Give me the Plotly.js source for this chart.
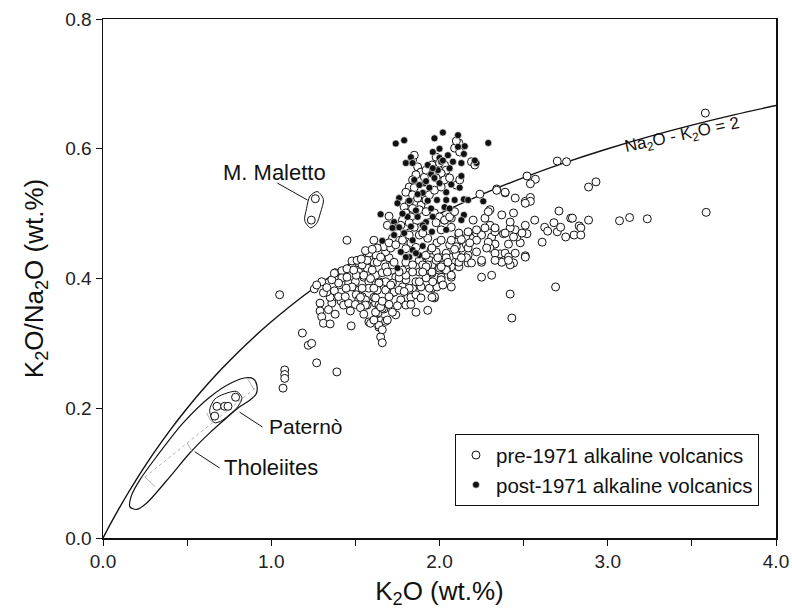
<!DOCTYPE html>
<html>
<head>
<meta charset="utf-8">
<script src="https://cdn.plot.ly/plotly-3.0.1.min.js"></script>
<style>html,body{margin:0;padding:0;background:#fff;}#chart{width:792px;height:609px;}</style>
</head>
<body>
<div id="chart"></div>
<script>
// ---- Data: [K2O wt.%, K2O/Na2O] ----
const pre1971 = [
 [1.05,0.375],[1.08,0.259],[1.08,0.252],[1.08,0.246],[1.07,0.231],
 [1.185,0.316],[1.22,0.297],[1.24,0.300],[1.27,0.270],
 [1.39,0.256],[1.45,0.459],[3.58,0.655],[3.585,0.502],
 [3.235,0.492],[3.13,0.494],[3.07,0.489],[2.886,0.490],[2.93,0.549],[2.886,0.541],[2.755,0.580],[2.70,0.581],
 [2.57,0.553],[2.52,0.558],[2.54,0.546],[2.34,0.538],[2.39,0.532],[2.45,0.524],[2.51,0.519],[2.54,0.525],[2.54,0.519],
 [2.71,0.504],[2.78,0.493],[2.79,0.493],[2.566,0.490],[2.51,0.482],[2.52,0.469],[2.625,0.479],[2.643,0.473],[2.68,0.486],
 [2.70,0.472],[2.72,0.479],[2.75,0.464],[2.61,0.456],[2.83,0.481],[2.84,0.478],[2.80,0.467],[2.84,0.467],[2.51,0.435],
 [2.69,0.387],[2.42,0.376],[2.43,0.339],[2.31,0.405],[2.44,0.424],[2.42,0.421],[2.37,0.425],[2.36,0.438],[2.39,0.439],
 [2.41,0.433],[2.48,0.455],[2.46,0.464],[2.45,0.475],[2.42,0.478],[2.38,0.469],[2.41,0.453],[2.33,0.453],[2.31,0.464],
 [2.33,0.476],[2.30,0.482],[2.37,0.498],[2.44,0.501],[2.30,0.506],[2.30,0.447],
 [0.788,0.217],[0.677,0.203],[0.723,0.203],[0.743,0.203],[0.664,0.188],
 [1.262,0.523],[1.238,0.490],
 [1.256,0.384],[1.30,0.395],[1.38,0.409],[1.42,0.412],[1.48,0.427],[1.29,0.362],[1.29,0.350],[1.30,0.341],[1.31,0.331],
 [1.35,0.330],[1.475,0.327],[1.36,0.367],[1.36,0.362],[1.35,0.371],[1.415,0.365],[1.43,0.359],[1.46,0.362],[1.415,0.379],
 [1.375,0.381],[1.46,0.393],[1.50,0.395],[1.52,0.382],[1.54,0.372],[1.58,0.333],[1.64,0.325],[1.65,0.310],[1.66,0.301],
 [1.65,0.335],[1.68,0.334],[1.635,0.347],[1.67,0.353],[1.62,0.348],[1.74,0.344],[1.59,0.331],[1.86,0.348],[1.93,0.351],
 [1.77,0.364],[1.81,0.370],[1.97,0.370],[2.07,0.387],[2.25,0.425],[2.17,0.424],[2.115,0.418],[2.07,0.402],[2.01,0.402],
 [1.955,0.408],[1.997,0.413],[1.92,0.393],[1.955,0.385],[1.84,0.385],[1.86,0.395],[1.80,0.398],[1.74,0.402],[1.72,0.393],
 [1.68,0.395],[1.64,0.395],[1.62,0.405],[1.66,0.409],[1.57,0.416],[1.52,0.410],[1.55,0.402],[1.58,0.395],[1.58,0.385],
 [1.61,0.371],[1.68,0.382],[1.72,0.378],[1.48,0.387],[1.505,0.405],[1.52,0.424],[1.61,0.425],[1.66,0.433],[1.71,0.425],
 [1.72,0.413],[1.68,0.418],[1.80,0.425],[1.86,0.418],[1.82,0.410],[1.90,0.424],[1.94,0.428],[2.01,0.428],[2.06,0.433],
 [2.115,0.433],[2.17,0.436],[2.07,0.418],[1.955,0.421],[2.04,0.416],[1.42,0.401],[1.40,0.393],[1.445,0.385],[1.505,0.375],
 [1.52,0.367],[1.56,0.367],[1.57,0.359],[1.62,0.362],[1.36,0.398],[1.33,0.379],[1.31,0.378],[1.97,0.372],
 [1.61,0.459],[1.58,0.433],[1.54,0.421],[1.55,0.405],[1.60,0.413],[1.63,0.425],[1.64,0.393],[1.63,0.382],[1.54,0.385],
 [1.53,0.371],[1.56,0.359],[1.62,0.370],[1.64,0.359],[1.66,0.354],[1.71,0.390],[1.73,0.379],[1.76,0.401],[1.80,0.405],
 [1.78,0.387],[1.82,0.385],[1.83,0.371],[1.89,0.387],[1.92,0.401],[1.94,0.385],[1.955,0.371],[1.985,0.387],[2.01,0.398],
 [2.04,0.413],[2.07,0.405],[2.00,0.416],[1.955,0.410],[1.93,0.421],[1.98,0.428],[2.01,0.432],[2.04,0.439],[2.10,0.436],
 [2.13,0.447],[2.16,0.452],[2.16,0.462],[2.17,0.472],[2.20,0.462],[2.22,0.470],[2.25,0.467],[2.29,0.456],[2.28,0.447],
 [2.33,0.439],[2.33,0.472],[2.115,0.425],[2.16,0.432],[2.19,0.424],[1.92,0.436],[1.95,0.444],[1.985,0.455],[2.01,0.459],
 [2.10,0.456],[2.06,0.452],[2.115,0.467],[1.88,0.428],[1.84,0.421],[1.78,0.413],[1.72,0.421],[1.70,0.432],[1.69,0.410],
 [1.68,0.441],[1.98,0.441],[1.90,0.421],[1.76,0.382],[1.86,0.375],[1.89,0.370],[1.77,0.367],[1.80,0.359],[1.69,0.336],
 [1.64,0.328],[1.65,0.356],[2.25,0.402],[1.66,0.321],[1.72,0.348],[1.61,0.336],
 [1.70,0.496],[1.69,0.482],[1.67,0.449],[1.71,0.447],[1.63,0.447],[1.58,0.439],[1.57,0.428],[1.65,0.433],[1.51,0.428],
 [1.375,0.408],[1.45,0.402],[2.07,0.493],[2.07,0.479],[2.03,0.490],[2.01,0.475],[2.20,0.490],[2.27,0.493],[2.29,0.503],
 [2.27,0.478],[2.22,0.475],[2.24,0.530],[2.33,0.478],[2.42,0.487],[2.39,0.470],[2.39,0.533],[2.34,0.536],[2.51,0.516],
 [2.49,0.470],[2.44,0.464],[2.45,0.439],[2.51,0.433],[2.41,0.428],[2.33,0.428],[2.25,0.428],[2.22,0.441],[2.17,0.447],
 [2.22,0.459],[2.115,0.470],[2.07,0.459],[2.10,0.449],[2.13,0.432],[2.04,0.432],[1.99,0.432],[1.955,0.447],[1.92,0.418],
 [2.01,0.418],[1.88,0.410],[1.84,0.410],[1.76,0.410],[1.73,0.425],[1.83,0.455],[1.88,0.467],[1.85,0.479],
 [1.87,0.572],[1.89,0.564],[1.86,0.560],[1.84,0.552],[1.91,0.556],[1.92,0.567],[1.955,0.575],[2.03,0.575],[2.04,0.567],
 [2.01,0.562],[1.98,0.555],[2.03,0.552],[2.06,0.555],[1.82,0.541],[1.85,0.540],[1.80,0.533],[1.84,0.529],[1.87,0.524],
 [1.82,0.518],[1.79,0.510],[1.84,0.508],[1.89,0.513],[1.92,0.521],[1.94,0.529],[1.97,0.536],[2.01,0.541],[1.80,0.501],
 [1.83,0.495],[1.78,0.490],[1.82,0.486],[1.77,0.482],[1.97,0.501],[2.00,0.495],[1.98,0.486],[2.03,0.490],[2.06,0.495],
 [2.09,0.503],[1.88,0.506],[1.92,0.503],[2.10,0.544],[2.12,0.552],[2.19,0.580],[2.21,0.575],[2.115,0.609],[2.09,0.601],
 [1.98,0.587],[2.00,0.578],[1.84,0.583],[1.85,0.590],[2.12,0.595],[2.10,0.612],[1.75,0.470],[1.72,0.462],[1.70,0.455],
 [1.78,0.459],[1.80,0.446],[1.74,0.452],[1.86,0.448],[1.93,0.462],[1.90,0.470],[1.82,0.467],
 [1.27,0.390],[1.33,0.386],[1.34,0.352],[1.38,0.345],[1.40,0.372],[1.44,0.372],[1.47,0.350],[1.50,0.360],[1.53,0.355],
 [1.55,0.345],[1.45,0.415],[1.49,0.413],[1.535,0.430],[1.56,0.443],[1.60,0.445],[1.59,0.400],[1.61,0.385],[1.66,0.365],
 [1.70,0.360],[1.70,0.372],[1.75,0.358],[1.79,0.380],[1.83,0.360],[1.88,0.395],[1.90,0.410],[1.96,0.395],[2.02,0.390],
 [2.05,0.425],[2.09,0.445],[2.13,0.460],[2.18,0.455]
];
const post1971 = [
 [1.74,0.608],[1.79,0.613],[1.97,0.616],[2.02,0.625],[2.11,0.621],[2.29,0.609],[2.15,0.604],[1.96,0.595],[2.11,0.603],
 [2.145,0.592],[1.83,0.587],[1.80,0.578],[1.84,0.578],[2.00,0.586],[2.01,0.580],[2.13,0.578],[2.22,0.578],[2.21,0.582],
 [1.99,0.567],[2.06,0.570],[2.13,0.558],[2.12,0.540],[1.95,0.561],[1.91,0.547],[1.94,0.540],[2.00,0.547],[2.04,0.533],
 [1.985,0.521],[2.04,0.521],[2.09,0.521],[2.145,0.522],[2.26,0.519],[1.76,0.524],[1.75,0.516],[1.65,0.499],[1.95,0.508],
 [2.03,0.510],[1.90,0.532],[1.88,0.544],[1.85,0.552],[2.145,0.498],[2.13,0.490],[1.87,0.495],[1.92,0.487],[1.73,0.487],
 [1.74,0.479],[1.90,0.482],[1.66,0.458],[1.73,0.467],[1.76,0.479],[1.84,0.459],[1.91,0.478],[1.90,0.450],[1.84,0.444],
 [1.77,0.441],[1.82,0.433],[1.88,0.436],[1.75,0.416],[2.04,0.475],[1.955,0.472],[1.72,0.478],[1.86,0.439],[2.17,0.521],
 [1.80,0.433],[2.00,0.600],[2.05,0.590],[2.08,0.580],[1.93,0.575],[1.97,0.555],[2.07,0.545],[1.93,0.520],[1.86,0.505],
 [1.81,0.495],[1.96,0.495],[2.06,0.508],[1.78,0.500],[1.82,0.520],[1.87,0.530],[1.92,0.550],[1.96,0.570],[2.02,0.582],
 [1.79,0.470],[1.83,0.480]
];
// Reference line Na2O - K2O = 2  (ratio = K2O / (K2O + 2))
const curveK2O = [0,0.02,0.05,0.1,0.15,0.2,0.3,0.4,0.5,0.6,0.7,0.8,0.9,1.0,1.2,1.4,1.6,1.8,2.0,2.25,2.5,2.75,3.0,3.25,3.5,3.75,4.0];
// Field outlines
const tholeiiteField = [[0.16,0.048],[0.17,0.066],[0.22,0.090],[0.32,0.126],[0.475,0.177],[0.634,0.217],[0.77,0.240],
 [0.85,0.247],[0.895,0.245],[0.915,0.235],[0.91,0.222],[0.87,0.212],[0.81,0.202],[0.72,0.182],[0.634,0.162],
 [0.516,0.131],[0.38,0.089],[0.26,0.054],[0.20,0.044],[0.16,0.048]];
const tholeiiteAxis = [[0.25,0.094],[0.91,0.232]];
const tholeiiteCross = [[[0.25,0.094],[0.31,0.079]],[[0.50,0.147],[0.53,0.133]],[[0.615,0.193],[0.645,0.179]],[[0.86,0.245],[0.90,0.228]]];
const paternoField = [[0.634,0.197],[0.664,0.214],[0.72,0.222],[0.794,0.226],[0.826,0.216],[0.80,0.202],[0.764,0.193],
 [0.70,0.180],[0.66,0.178],[0.634,0.197]];
const malettoField = [[1.274,0.534],[1.31,0.522],[1.293,0.502],[1.27,0.485],[1.234,0.478],[1.199,0.489],[1.21,0.508],[1.23,0.527],[1.274,0.534]];

const FONT = 'Liberation Sans, Arial, Helvetica, sans-serif';
const traces = [];
const outline = (pts, opts) => ({x: pts.map(p=>p[0]), y: pts.map(p=>p[1]), mode:'lines', type:'scatter',
  line: Object.assign({color:'#111', width:1.2, shape:'spline', smoothing:0.8}, opts||{}), showlegend:false, hoverinfo:'skip'});

traces.push({x: curveK2O, y: curveK2O.map(k => k/(k+2)), mode:'lines', type:'scatter',
  line:{color:'#111', width:1.4, shape:'spline'}, showlegend:false, hoverinfo:'skip'});
traces.push(outline(tholeiiteField));
traces.push(outline(tholeiiteAxis, {color:'#999', width:0.8, dash:'dot', shape:'linear'}));
tholeiiteCross.forEach(c => traces.push(outline(c, {color:'#999', width:0.8, shape:'linear'})));
traces.push(outline(paternoField, {width:1}));
traces.push(outline(malettoField, {width:1}));

traces.push({name:'pre-1971 alkaline volcanics', x: pre1971.map(p=>p[0]), y: pre1971.map(p=>p[1]),
  mode:'markers', type:'scatter', marker:{symbol:'circle', size:8, color:'#fff', line:{color:'#111', width:1}}});
traces.push({name:'post-1971 alkaline volcanics', x: post1971.map(p=>p[0]), y: post1971.map(p=>p[1]),
  mode:'markers', type:'scatter', marker:{symbol:'circle', size:7, color:'#111', line:{color:'#fff', width:0.6}}});

const layout = {
  width:792, height:609,
  margin:{l:103, r:16, t:19, b:71},
  paper_bgcolor:'#fff', plot_bgcolor:'#fff',
  font:{family:FONT, color:'#111'},
  showlegend:true,
  legend:{x:0.523, y:0.2, xanchor:'left', yanchor:'top', bordercolor:'#111', borderwidth:1,
    font:{size:20.5, family:FONT, color:'#111'}, bgcolor:'#fff', itemwidth:30, tracegroupgap:0},
  xaxis:{range:[0,4], showgrid:false, zeroline:false, showline:true, linecolor:'#111', linewidth:1.5, mirror:true,
    ticks:'outside', ticklen:6, tickcolor:'#111', tickwidth:1,
    tickvals:[0,1,2,3,4], ticktext:['0.0','1.0','2.0','3.0','4.0'],
    minor:{tickvals:[0.5,1.5,2.5,3.5], ticks:'outside', ticklen:6, tickcolor:'#111', tickwidth:1, showgrid:false},
    tickfont:{size:19, family:FONT, color:'#222'},
    title:{text:'K<sub>2</sub>O (wt.%)', font:{size:26, family:FONT, color:'#111'}, standoff:18}},
  yaxis:{range:[0,0.8], showgrid:false, zeroline:false, showline:true, linecolor:'#111', linewidth:1.5, mirror:true,
    ticks:'outside', ticklen:6, tickcolor:'#111', tickwidth:1,
    tickvals:[0,0.2,0.4,0.6,0.8], ticktext:['0.0','0.2','0.4','0.6','0.8'],
    tickfont:{size:19, family:FONT, color:'#222'},
    title:{text:'K<sub>2</sub>O/Na<sub>2</sub>O (wt.%)', font:{size:26, family:FONT, color:'#111'}, standoff:14}},
  shapes:[
    {type:'line', xref:'x', yref:'y', x0:1.037, y0:0.547, x1:1.215, y1:0.521, line:{color:'#111', width:1}},
    {type:'line', xref:'x', yref:'y', x0:0.812, y0:0.194, x1:0.948, y1:0.171, line:{color:'#111', width:1}},
    {type:'line', xref:'x', yref:'y', x0:0.545, y0:0.133, x1:0.693, y1:0.108, line:{color:'#111', width:1}}
  ],
  annotations:[
    {xref:'x', yref:'y', x:0.70, y:0.564, text:'M. Maletto', showarrow:false, xanchor:'left', yanchor:'middle', font:{size:22, family:FONT, color:'#111'}},
    {xref:'x', yref:'y', x:0.975, y:0.172, text:'Paternò', showarrow:false, xanchor:'left', yanchor:'middle', font:{size:21, family:FONT, color:'#111'}},
    {xref:'x', yref:'y', x:0.705, y:0.108, text:'Tholeiites', showarrow:false, xanchor:'left', yanchor:'middle', font:{size:22, family:FONT, color:'#111'}},
    {xref:'x', yref:'y', x:3.445, y:0.619, text:'Na<sub>2</sub>O - K<sub>2</sub>O = 2', showarrow:false, textangle:-12, xanchor:'center', yanchor:'middle', font:{size:17, family:FONT, color:'#111'}}
  ]
};
Plotly.newPlot('chart', traces, layout, {displayModeBar:false, staticPlot:true});
</script>
</body>
</html>
